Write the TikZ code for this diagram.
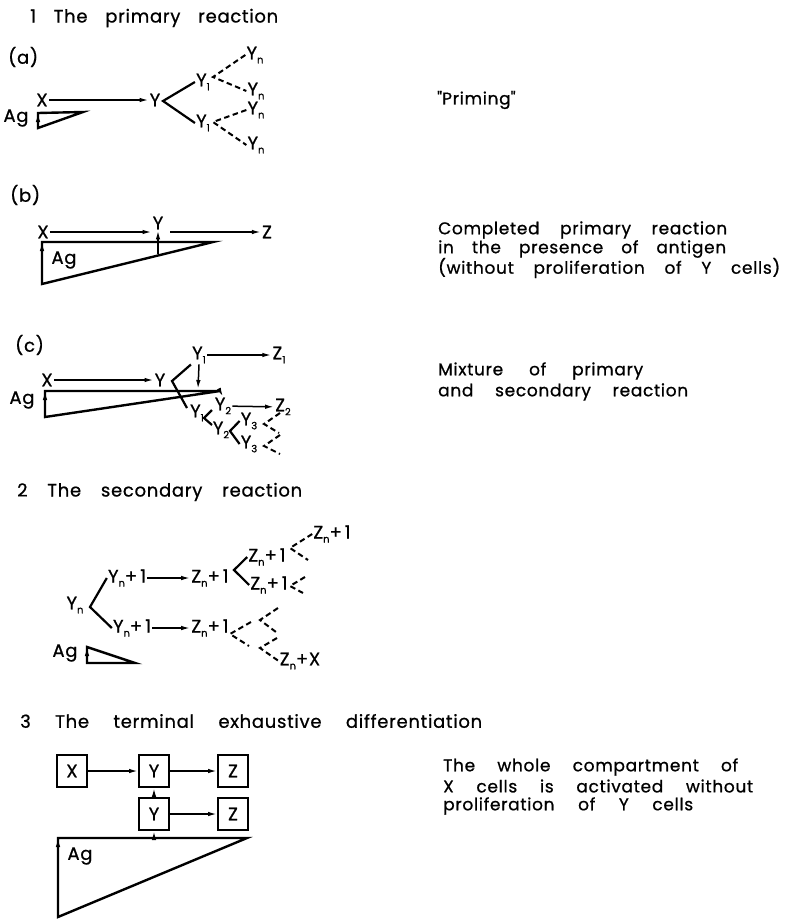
\documentclass[tikz,border=0pt]{standalone}
\usepackage{fontspec}
\setmainfont{Poppins}[LetterSpace=4, FakeBold=0.8]
\newfontfamily\qfont{Poppins}[Ligatures=TeXOff, FakeBold=0.8]
\usetikzlibrary{arrows.meta}
\newcommand\subs[1]{\raisebox{-4pt}{\fontsize{10}{10}\selectfont #1}}
\newcommand\jtext[2]{\makebox[#1pt][s]{#2}}
\begin{document}
\begin{tikzpicture}[x=1pt,y=-1pt,
  every node/.style={inner sep=1pt, font=\fontsize{18}{20}\selectfont},
  desc/.style={anchor=west, inner sep=0pt},
  dtext/.style={anchor=west, inner sep=0pt, font=\fontsize{17}{19}\selectfont},
  arr/.style={line width=1.5pt, -{Latex[length=9pt,width=4.5pt]}},
  br/.style={line width=2.2pt},
  dsh/.style={line width=2pt, dash pattern=on 5.5pt off 3.5pt},
  tri/.style={line width=2.4pt, line join=miter},
  box/.style={draw, line width=2pt, minimum width=30pt, minimum height=32pt, inner sep=0pt}]
\useasboundingbox (0,0) rectangle (787,921);

% ---------- 1 The primary reaction ----------
\node[desc] (t1) at (30,18) {\jtext{248}{1 The primary reaction}};
\node[desc] (la) at (8,57) {(a)};
\node (Xa) at (42,100) {X};
\node (Aga) at (16,118) {Ag};
\node (Ya) at (155,100) {Y};
\draw[arr] (Xa) -- (Ya);
\coordinate (va) at (163,101);
\node (Y1u) at (203,82) {Y\subs{1}};
\node (Y1l) at (203,123) {Y\subs{1}};
\draw[br] (Y1u.west) -- (va) -- (Y1l.west);
\coordinate (vau) at (213,77);
\node (Yn1) at (255,55) {Y\subs{n}};
\node (Yn2) at (256,91) {Y\subs{n}};
\draw[dsh] (Yn1.west) -- (vau) -- (Yn2.west);
\coordinate (val) at (213,122);
\node (Yn3) at (256,110) {Y\subs{n}};
\node (Yn4) at (256,145) {Y\subs{n}};
\draw[dsh] (Yn3.west) -- (val) -- (Yn4.west);
\coordinate (a1) at (38,113);
\coordinate (a2) at (83,112);
\coordinate (a3) at (38,128);
\draw[arr] (a3) -- (a1);
\draw[tri] (a1) -- (a2) -- (a3) -- cycle;
\node[dtext] (pr) at (437,100) {{\qfont"}Priming{\qfont"}};

% (b)
\node[desc] (lb) at (10,195) {(b)};
\node (Xb) at (43,232) {X};
\node (Yb) at (158,223) {Y};
\node (Zb) at (267,232) {Z};
\draw[arr] (Xb.east) -- (Xb.east -| Yb.west);
\draw[arr, shorten <=6pt] (Xb.east -| Yb.east) -- (Zb.west);
\coordinate (b1) at (42,242);
\coordinate (b2) at (213,242);
\coordinate (b3) at (42,284);
\draw[arr] (b3) -- (b1);
\draw[tri] (b1) -- (b2) -- (b3) -- cycle;
\node (Agb) at (64,260) {Ag};
\coordinate (bs) at (158,254);
\draw[arr] (bs) -- (Yb.south);
\node[dtext] at (438,230) {\jtext{289}{Completed primary reaction}};
\node[dtext] at (438,249) {\jtext{288}{in the presence of antigen}};
\node[dtext] at (438,268) {\jtext{342}{(without proliferation of Y cells)}};

% (c)
\node[desc] (lc) at (15,345) {(c)};
\node (Xc) at (47,380) {X};
\node (Yc) at (160,380) {Y};
\draw[arr] (Xc) -- (Yc);
\coordinate (vc) at (172,381);
\node (Y1c) at (199,355) {Y\subs{1}};
\node (Z1c) at (279,355) {Z\subs{1}};
\node (Y1lc) at (197,413) {Y\subs{1}};
\coordinate (vclo) at (187,408);
\draw[br] (Y1c.south west) -- (vc) -- (vclo);
\draw[arr] (Y1c) -- (Z1c);
\coordinate (cdn) at (198,389);
\draw[arr] (Y1c.south) -- (cdn);
\coordinate (c1) at (45,391);
\coordinate (c2) at (220,391);
\coordinate (c3) at (45,417);
\draw[arr] (c3) -- (c1);
\draw[tri] (c1) -- (c2) -- (c3) -- cycle;
\node (Agc) at (22,400) {Ag};
\node (Y2c) at (223,406) {Y\subs{2}};
\node (Z2c) at (283,407) {Z\subs{2}};
\draw[arr] (c2) -- (Y2c.north);
\draw[arr] (Y2c) -- (Z2c);
\coordinate (vc2) at (204,418);
\node (Y2lc) at (221,430) {Y\subs{2}};
\coordinate (vc2u) at (212,410);
\coordinate (vc2l) at (212,425);
\draw[br] (vc2u) -- (vc2) -- (vc2l);
\coordinate (vc3) at (230,431);
\node (Y3u) at (249,421) {Y\subs{3}};
\node (Y3l) at (249,444) {Y\subs{3}};
\draw[br] (Y3u.west) -- (vc3) -- (Y3l.west);
\coordinate (vc4) at (264,424);
\coordinate (vc4u) at (280,413);
\coordinate (vc4l) at (279,433);
\draw[dsh] (vc4u) -- (vc4) -- (vc4l);
\coordinate (vc5) at (264,446);
\coordinate (vc5u) at (280,435);
\coordinate (vc5l) at (280,454);
\draw[dsh] (vc5u) -- (vc5) -- (vc5l);
\node[dtext] at (438,371) {\jtext{205}{Mixture of primary}};
\node[dtext] at (438,392) {\jtext{250}{and secondary reaction}};

% ---------- 2 The secondary reaction ----------
\node[desc] (t2) at (17,492) {\jtext{285}{2 The secondary reaction}};
\node (Yn) at (75,605) {Y\subs{n}};
\coordinate (v2) at (90,607);
\node (Yp1) at (127,578) {Y\subs{n}+\,1};
\node (Yp2) at (132,628) {Y\subs{n}+\,1};
\draw[br] (Yp1.west) -- (v2) -- (Yp2.west);
\node (Zp1) at (210,578) {Z\subs{n}+\,1};
\node (Zp2) at (210,628) {Z\subs{n}+\,1};
\draw[arr] (Yp1) -- (Zp1);
\draw[arr] (Yp2) -- (Zp2);
\coordinate (v3) at (234,570);
\node (Zq1) at (267,557) {Z\subs{n}+\,1};
\node (Zq2) at (269,585) {Z\subs{n}+\,1};
\draw[br] (Zq1.west) -- (v3) -- (Zq2.west);
\coordinate (v4) at (290,548);
\node (Zr1) at (332,534) {Z\subs{n}+\,1};
\coordinate (v4l) at (308,560);
\draw[dsh] (Zr1.west) -- (v4) -- (v4l);
\coordinate (v5) at (290,586);
\coordinate (v5u) at (305,577);
\coordinate (v5l) at (303,593);
\draw[dsh] (v5u) -- (v5) -- (v5l);
\coordinate (v6) at (230,634);
\coordinate (v6u) at (251,622);
\coordinate (v6l) at (249,646);
\draw[dsh] (v6u) -- (v6) -- (v6l);
\coordinate (v7) at (260,620);
\coordinate (v7u) at (278,608);
\coordinate (v7l) at (276,632);
\draw[dsh] (v7u) -- (v7) -- (v7l);
\coordinate (v8) at (260,648);
\coordinate (v8u) at (277,638);
\node (Zx) at (300,661) {Z\subs{n}+X};
\draw[dsh] (v8u) -- (v8) -- (Zx.west);
\node (Ag2) at (65,653) {Ag};
\coordinate (d1) at (87,647);
\coordinate (d2) at (87,663);
\coordinate (d3) at (135,663);
\draw[arr] (d2) -- (d1);
\draw[tri] (d1) -- (d3) -- (d2) -- cycle;

% ---------- 3 The terminal exhaustive differentiation ----------
\node[desc] (t3) at (20,721) {\jtext{462}{3 The terminal exhaustive differentiation}};
\node[box] (BX) at (72,771) {X};
\node[box] (BY1) at (154,771) {Y};
\node[box] (BZ1) at (233,771) {Z};
\node[box] (BY2) at (154,814) {Y};
\node[box] (BZ2) at (233,814) {Z};
\draw[arr] (BX) -- (BY1);
\draw[arr] (BY1) -- (BZ1);
\draw[arr] (BY2) -- (BZ2);
\draw[arr] (BY2.north) -- (BY1.south);
\coordinate (e1) at (58,838);
\coordinate (e2) at (247,838);
\coordinate (e3) at (58,917);
\draw[arr] (e3) -- (e1);
\draw[tri] (e1) -- (e2) -- (e3) -- cycle;
\coordinate (es) at (154,838);
\draw[arr] (es) -- (BY2.south);
\node (Ag3) at (80,856) {Ag};
\node[dtext] at (443,767) {\jtext{295}{The whole compartment of}};
\node[dtext] at (443,786) {\jtext{310}{X cells is activated without}};
\node[dtext] at (443,806) {\jtext{250}{proliferation of Y cells}};
\end{tikzpicture}
\end{document}
